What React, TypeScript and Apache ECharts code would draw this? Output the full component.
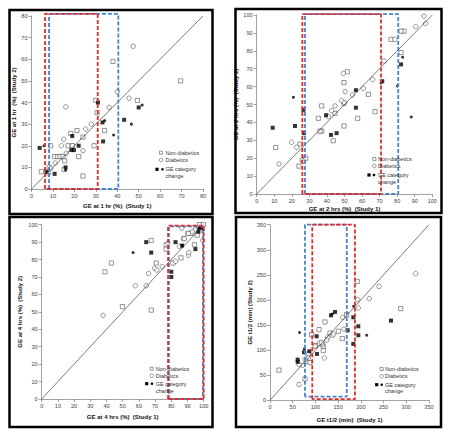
import React, { useEffect, useRef } from "react";
import * as echarts from "echarts";

// ---------- Panel 1: GE at 1 hr ----------
const p1NonDiab = [[69.6,50],[38,59],[49.4,41],[30,41],[30.6,35.3],[34.1,27],[21.2,27],[18.3,25.7],[24,24],[29.2,20],[17,20],[8.9,20],[22,15],[10.8,15],[12.1,15],[13.3,15],[14.7,15],[15.5,13],[15.2,9],[24,6],[4.6,8],[8.2,10],[19.1,20]];
const p1Diab = [[47.4,66],[40,45],[45.5,42],[16,38],[36.2,37.7],[27.9,30],[25.3,27.7],[15,23],[13.9,20],[19.1,20],[24,17.7],[16.2,16.5],[11.1,12],[8,7.2],[9,9.5]];
const p1ChangeSq = [[31,40],[50,37.7],[33.1,30.8],[43.2,32],[33.4,22],[19,24.5],[18.6,18],[19.8,18],[22,20],[15.9,10],[3.8,19],[7,8],[10.8,7]];
const p1ChangeDot = [[51.6,38.8],[34.1,31.6],[46.6,30],[38.3,25],[5.8,20],[15.9,8.8]];
const p1RedBox = [[6.3,0],[6.3,81],[30.9,81],[30.9,0],[6.3,0]];
const p1BlueBox = [[8.2,0],[8.2,81],[40.5,81],[40.5,0],[8.2,0]];

// ---------- Panel 2: GE at 2 hrs ----------
const p2NonDiab = [[83.9,91],[82.2,91],[76.5,86.4],[82.2,79],[51.6,68.3],[49.7,62.2],[63.6,55.7],[49.7,50.7],[67.4,46],[57.5,42.3],[37,49.2],[35.1,42.3],[37,35.2],[36,35],[43.6,29.8],[44.6,45],[49.7,38],[10.8,26],[24.7,27.9],[24.1,15.6],[26,19],[27.9,20]];
const p2Diab = [[95.3,99.4],[96.2,95.3],[90.5,93.5],[78.7,86.4],[72.5,74.3],[66,64],[60.7,59],[54.6,55.3],[49.3,67.4],[50.3,57.2],[48.4,52.1],[44.6,49.2],[42.7,46.6],[40.8,43.2],[19.9,28.9],[22.8,26.1],[12.7,16.8],[26.6,18.4],[50,51]];
const p2ChangeSq = [[82.2,72.4],[71.5,63],[56.5,58],[56.5,48.2],[42.3,33],[45.5,34],[39.5,44],[26.6,47],[21.8,38],[9.1,37],[26.9,34]];
const p2ChangeDot = [[83.1,76.4],[80.1,60.3],[88,43],[20.9,54],[70.8,62]];
const p2RedBox = [[26,0],[26,100.5],[70.8,100.5],[70.8,0],[26,0]];
const p2BlueBox = [[27.5,0],[27.5,100.5],[80.6,100.5],[80.6,0],[27.5,0]];

// ---------- Panel 3: GE at 4 hrs ----------
const p3NonDiab = [[39,73],[43,78],[49.8,53],[67.6,51],[67.6,91],[70.7,78],[76.8,88.5],[76.8,86],[81,78],[86,81],[87.7,92],[90.2,95],[92.2,95],[94.9,97],[97.3,100],[99.8,100],[94.3,88.5],[96,94],[98,97]];
const p3Diab = [[37.9,48],[57.8,65],[64.5,65],[66,72],[69.7,75],[71.1,74],[74.4,76],[86.5,98],[90.6,95],[90.6,82.4],[90.8,84],[85,87.6],[99.4,91],[77.9,89.5],[82.6,79],[88,92],[93,96]];
const p3ChangeSq = [[64.5,90],[67.6,84],[82.6,90],[80,73],[80,70],[86.7,88],[94.9,86],[96.7,96],[98.4,98]];
const p3ChangeDot = [[56.4,84],[86.7,88],[99.8,97],[97,98]];
const p3RedBox = [[78,0],[78,99.5],[100,99.5],[100,0],[78,0]];
const p3BlueBox = [[78.5,0],[78.5,99],[99.5,99],[99.5,0],[78.5,0]];

// ---------- Panel 4: GE t1/2 ----------
const p4NonDiab = [[287.6,182.6],[192.2,237],[168.7,170.7],[121,156],[107.9,140.8],[150.4,137.5],[132,134],[159.2,122.8],[91.7,130.8],[117.4,99],[117.4,107.6],[100.5,109],[84.4,92.3],[77,42.5],[19.8,60],[80.7,77.7],[88,75],[115,112]];
const p4Diab = [[320.6,252.3],[240,227],[218.6,202.5],[194.4,184],[193,200.5],[160,165],[162.9,142],[137.2,129.5],[127,125.5],[140,132],[108.6,114],[99,107.6],[84.4,84.3],[77,81],[71.9,69.7],[63.8,31.2],[119.6,84.3],[63.8,71],[113,115],[125,120]];
const p4ChangeSq = [[266.3,158.7],[194.4,147.4],[194.4,129.5],[183.4,165.3],[183.4,112.2],[171,139.4],[143.1,176],[134.3,169.3],[102.7,127.5],[103.4,92.3],[74.8,95.6],[60.9,81],[60.9,76.4],[86.6,97.6]];
const p4ChangeDot = [[65,135],[212.8,129.5],[184.1,187.3],[75.6,102.3],[137,172]];
const p4RedBox = [[93,2],[93,350],[187,350],[187,2],[93,2]];
const p4BlueBox = [[77,7],[77,350],[169,350],[169,7],[77,7]];

const axisMax = [80, 100, 100, 350];
const axisInterval = [10, 10, 10, 50];
const xNames = ["GE at 1 hr (%)  (Study 1)", "GE at 2 hrs (%)  (Study 1)", "GE at 4 hrs (%)  (Study 1)", "GE t1/2 (min)  (Study 1)"];
const yNames = ["GE at 1 hr  (%)  (Study 2)", "GE at 2 hrs (%)  (Study 2)", "GE at 4 hrs (%)  (Study 2)", "GE t1/2 (min) (Study 2)"];
const legendLabels = ["Non-diabetics", "Diabetics", "GE category", "change"];

const panels = [
  { nd: p1NonDiab, d: p1Diab, cs: p1ChangeSq, cd: p1ChangeDot, red: p1RedBox, blue: p1BlueBox },
  { nd: p2NonDiab, d: p2Diab, cs: p2ChangeSq, cd: p2ChangeDot, red: p2RedBox, blue: p2BlueBox },
  { nd: p3NonDiab, d: p3Diab, cs: p3ChangeSq, cd: p3ChangeDot, red: p3RedBox, blue: p3BlueBox },
  { nd: p4NonDiab, d: p4Diab, cs: p4ChangeSq, cd: p4ChangeDot, red: p4RedBox, blue: p4BlueBox },
];

const grids = [
  { left: 31.5, top: 16, width: 171.5, height: 173 },
  { left: 256.7, top: 15, width: 175.6, height: 179 },
  { left: 41.7, top: 224.7, width: 162, height: 174.3 },
  { left: 270, top: 224.7, width: 159, height: 175.5 },
];
const xNameGap = [14, 12, 15, 17];
const yNameGap = [9, 9, 19, 16];

const frames = [
  { x: 9.5, y: 10, width: 203, height: 204 },
  { x: 235.5, y: 9, width: 206, height: 204 },
  { x: 9.5, y: 217, width: 203, height: 210 },
  { x: 236, y: 217, width: 205, height: 210 },
];

const legendPos = [
  { symX: 161, textX: 165.5, ys: [152.7, 160, 169.3, 175.5], sqX: 157, dotX: 162.5 },
  { symX: 374.3, textX: 378, ys: [159, 166, 175, 181.7], sqX: 369, dotX: 374 },
  { symX: 151.7, textX: 155.7, ys: [368.7, 375.7, 383.7, 390.7], sqX: 146.7, dotX: 152 },
  { symX: 381.7, textX: 385, ys: [369, 376.3, 384.7, 391.3], sqX: 376.7, dotX: 381.7 },
];

const FONT = "Liberation Sans, Arial, sans-serif";

function buildOption() {
  const xAxis: any[] = [];
  const yAxis: any[] = [];
  const series: any[] = [];
  const graphic: any[] = [];

  const axisCommon = (i: number) => ({
    gridIndex: i,
    type: "value",
    min: 0,
    max: axisMax[i],
    interval: axisInterval[i],
    nameLocation: "middle",
    nameTextStyle: { fontFamily: FONT, fontSize: 6, fontWeight: "bold", color: "#111" },
    axisLine: { show: true, lineStyle: { color: "#8a8a8a", width: 0.8 } },
    axisTick: { show: true, length: 3, lineStyle: { color: "#8a8a8a", width: 0.8 } },
    axisLabel: { fontFamily: FONT, fontSize: 5.6, color: "#444", margin: 4 },
    splitLine: { show: false },
  });

  for (let i = 0; i < 4; i++) {
    xAxis.push({ ...axisCommon(i), name: xNames[i], nameGap: xNameGap[i] });
    yAxis.push({ ...axisCommon(i), name: yNames[i], nameGap: yNameGap[i], nameRotate: 90 });
    const p = panels[i];
    const m = axisMax[i];
    series.push({
      type: "line", xAxisIndex: i, yAxisIndex: i, data: [[0, 0], [m, m]], symbol: "none", clip: false,
      lineStyle: { color: "#222", width: 0.6 }, silent: true,
    });
    series.push({
      type: "line", xAxisIndex: i, yAxisIndex: i, data: p.blue, symbol: "none", clip: false,
      lineStyle: { color: "#4a82c8", width: 1.8, type: [4, 2] }, silent: true,
    });
    series.push({
      type: "line", xAxisIndex: i, yAxisIndex: i, data: p.red, symbol: "none", clip: false,
      lineStyle: { color: "#e32b2b", width: 1.8, type: [4, 2] }, silent: true,
    });
    series.push({
      type: "scatter", xAxisIndex: i, yAxisIndex: i, data: p.nd, symbol: "rect", symbolSize: 4.2,
      itemStyle: { color: "#fff", borderColor: "#444", borderWidth: 0.7 },
    });
    series.push({
      type: "scatter", xAxisIndex: i, yAxisIndex: i, data: p.d, symbol: "circle", symbolSize: 4.5,
      itemStyle: { color: "#fff", borderColor: "#444", borderWidth: 0.7 },
    });
    series.push({
      type: "scatter", xAxisIndex: i, yAxisIndex: i, data: p.cs, symbol: "rect", symbolSize: 4,
      itemStyle: { color: "#000" },
    });
    series.push({
      type: "scatter", xAxisIndex: i, yAxisIndex: i, data: p.cd, symbol: "circle", symbolSize: 3,
      itemStyle: { color: "#000" },
    });

    graphic.push({
      type: "rect", shape: frames[i], silent: true, z: 100,
      style: { fill: "none", stroke: "#000", lineWidth: 2.5 },
    });

    const lg = legendPos[i];
    const ts = { fontFamily: FONT, fontSize: 5.5, fill: "#333", verticalAlign: "middle", align: "left" };
    graphic.push(
      { type: "rect", shape: { x: lg.symX - 1.5, y: lg.ys[0] - 1.5, width: 3, height: 3 }, style: { fill: "#fff", stroke: "#555", lineWidth: 0.6 }, z: 101 },
      { type: "text", x: lg.textX, y: lg.ys[0], style: { ...ts, text: legendLabels[0] }, z: 101 },
      { type: "circle", shape: { cx: lg.symX, cy: lg.ys[1], r: 1.8 }, style: { fill: "#fff", stroke: "#555", lineWidth: 0.6 }, z: 101 },
      { type: "text", x: lg.textX, y: lg.ys[1], style: { ...ts, text: legendLabels[1] }, z: 101 },
      { type: "rect", shape: { x: lg.sqX - 1.6, y: lg.ys[2] - 1.6, width: 3.2, height: 3.2 }, style: { fill: "#000" }, z: 101 },
      { type: "circle", shape: { cx: lg.dotX, cy: lg.ys[2], r: 1.3 }, style: { fill: "#000" }, z: 101 },
      { type: "text", x: lg.textX, y: lg.ys[2], style: { ...ts, text: legendLabels[2] }, z: 101 },
      { type: "text", x: lg.textX, y: lg.ys[3], style: { ...ts, text: legendLabels[3] }, z: 101 },
    );
  }

  return {
    animation: false,
    backgroundColor: "#fff",
    textStyle: { fontFamily: FONT },
    grid: grids,
    xAxis,
    yAxis,
    series,
    graphic,
  };
}

export default function App() {
  const ref = useRef<HTMLDivElement>(null);
  useEffect(() => {
    if (!ref.current) return;
    const chart = echarts.init(ref.current, undefined, { renderer: "svg" });
    chart.setOption(buildOption() as any);
    return () => chart.dispose();
  }, []);
  return (
    <div
      ref={ref}
      style={{ position: "fixed", left: 0, top: 0, width: 450, height: 437, background: "#fff" }}
    />
  );
}
